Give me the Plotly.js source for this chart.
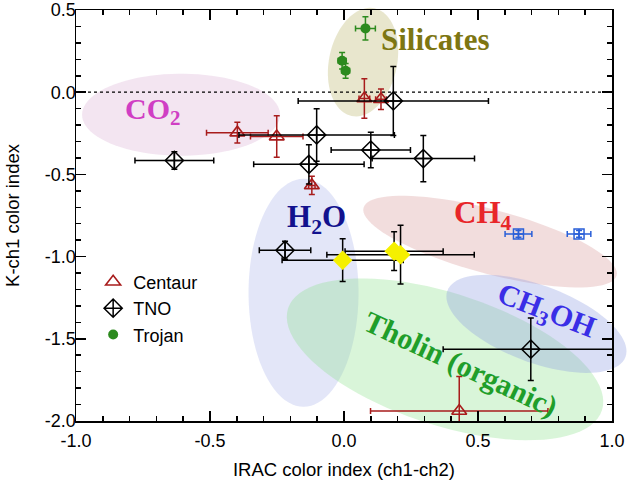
<!DOCTYPE html>
<html>
<head>
<meta charset="utf-8">
<script src="https://cdn.plot.ly/plotly-3.0.1.min.js"></script>
<style>html,body{margin:0;padding:0;background:#fff;}#chart{width:627px;height:480px;}</style>
</head>
<body>
<div id="chart"></div>
<script>
// ---------------- data ----------------
const centaurX    = [-0.398, -0.251, -0.120, 0.076, 0.138, 0.430];
const centaurY    = [-0.246, -0.270, -0.567, -0.038, -0.043, -1.939];
const centaurXErr = [0.115, 0.098, 0.012, 0.020, 0.020, 0.331];
const centaurYErr = [0.063, 0.126, 0.056, 0.120, 0.062, 0.210];

const tnoX    = [-0.633, -0.102, -0.131, 0.184, 0.100, 0.296, -0.220, 0.697];
const tnoY    = [-0.415, -0.260, -0.439, -0.053, -0.352, -0.404, -0.961, -1.563];
const tnoXErr = [0.147, 0.290, 0.206, 0.355, 0.148, 0.191, 0.096, 0.327];
const tnoYErr = [0.053, 0.160, 0.120, 0.210, 0.108, 0.140, 0.055, 0.190];

const trojanX    = [0.080, -0.007, 0.006];
const trojanY    = [0.388, 0.191, 0.130];
const trojanXErr = [0.037, 0.015, 0.015];
const trojanYErr = [0.071, 0.050, 0.045];

const ch4X    = [0.651, 0.877];
const ch4Y    = [-0.862, -0.862];
const ch4XErr = [0.050, 0.044];
const ch4YErr = [0.020, 0.020];

const yellowX    = [-0.005, 0.187, 0.211];
const yellowY    = [-1.022, -0.967, -0.988];
const yellowXErr = [0.226, 0.183, 0.275];
const yellowYErr = [0.130, 0.118, 0.178];

const xTickVals = [-1, -0.5, 0, 0.5, 1];
const xTickText = ['-1.0', '-0.5', '0.0', '0.5', '1.0'];
const yTickVals = [-2, -1.5, -1, -0.5, 0, 0.5];
const yTickText = ['-2.0', '-1.5', '-1.0', '-0.5', '0.0', '0.5'];

// composition regions (centre in data units)
const regionNames = ['CO2', 'Silicates', 'H2O', 'Tholin', 'CH4', 'CH3OH'];
const regionCX    = [-0.608, 0.071, -0.151, 0.377, 0.545, 0.718];
const regionCY    = [-0.137, 0.183, -1.220, -1.625, -0.909, -1.409];

// region labels
const labelText = ['CO<sub>2</sub>', 'Silicates', 'H<sub>2</sub>O', 'CH<sub>4</sub>', 'CH<sub>3</sub>OH', 'Tholin (organic)'];
const labelX    = [-0.713, 0.343, -0.104, 0.519, 0.754, 0.433];
const labelY    = [-0.116, 0.323, -0.770, -0.744, -1.335, -1.655];

// ---------------- geometry / style ----------------
const xRange = [-1, 1], yRange = [-2, 0.5];
const M = {l: 76, r: 15, t: 10, b: 59};
const W = 627, H = 480;
const PW = W - M.l - M.r, PH = H - M.t - M.b;

const regionStyle = {
  CO2:       {a: 99,  b: 41,  ang: 0,    fill: 'rgba(212,161,206,0.28)'},
  Silicates: {a: 55,  b: 34,  ang: -78,  fill: 'rgba(184,178,98,0.32)'},
  H2O:       {a: 114, b: 55,  ang: 90,   fill: 'rgba(169,178,235,0.33)'},
  Tholin:    {a: 165, b: 66,  ang: 18,   fill: 'rgba(141,226,141,0.33)'},
  CH4:       {a: 131, b: 32,  ang: 15,   fill: 'rgba(212,141,141,0.3)'},
  CH3OH:     {a: 95,  b: 38.6,ang: 20.4, fill: 'rgba(141,155,226,0.33)'}
};
const labelStyle = [
  {color: '#d03ec4', size: 30, angle: 0},
  {color: '#7d7612', size: 31, angle: 0},
  {color: '#12128e', size: 31, angle: 0},
  {color: '#e8262a', size: 31, angle: 0},
  {color: '#3a2ee6', size: 30, angle: 21},
  {color: '#1f9e2a', size: 30, angle: 25}
];

function dataToPx(x, y) {
  return [M.l + (x - xRange[0]) / (xRange[1] - xRange[0]) * PW,
          M.t + (yRange[1] - y) / (yRange[1] - yRange[0]) * PH];
}
function pxToPaper(px, py) {
  return [(px - M.l) / PW, 1 - (py - M.t) / PH];
}
function ellipsePath(cx, cy, a, b, angDeg) {
  const c = dataToPx(cx, cy);
  const th = angDeg * Math.PI / 180;
  const n = 90;
  let d = '';
  for (let i = 0; i <= n; i++) {
    const t = 2 * Math.PI * i / n;
    const px = c[0] + a * Math.cos(t) * Math.cos(th) - b * Math.sin(t) * Math.sin(th);
    const py = c[1] + a * Math.cos(t) * Math.sin(th) + b * Math.sin(t) * Math.cos(th);
    const p = pxToPaper(px, py);
    d += (i === 0 ? 'M' : 'L') + p[0].toFixed(5) + ',' + p[1].toFixed(5);
  }
  return d + 'Z';
}

const shapes = regionNames.map((nm, i) => {
  const s = regionStyle[nm];
  return {type: 'path', xref: 'paper', yref: 'paper', layer: 'below',
          path: ellipsePath(regionCX[i], regionCY[i], s.a, s.b, s.ang),
          fillcolor: s.fill, line: {width: 0}};
});
shapes.push({type: 'line', xref: 'x', yref: 'y', x0: xRange[0], x1: xRange[1], y0: 0, y1: 0,
             layer: 'below', line: {color: '#000', width: 1.2, dash: 'dot'}});

const annotations = labelText.map((t, i) => ({
  x: labelX[i], y: labelY[i], xref: 'x', yref: 'y', text: t, showarrow: false,
  textangle: labelStyle[i].angle,
  font: {family: '"Liberation Serif", "Times New Roman", serif', size: labelStyle[i].size,
         color: labelStyle[i].color, weight: 'bold'}
}));

function errs(arr, color, w) {
  return {type: 'data', array: arr, visible: true, color: color, thickness: 1.5, width: w};
}

const red = '#a81c1c', blue = '#2a5fd8', green = '#2c8a1e';
const traces = [
  {x: centaurX, y: centaurY, name: 'Centaur', type: 'scatter', mode: 'markers',
   error_x: errs(centaurXErr, red, 3), error_y: errs(centaurYErr, red, 3),
   marker: {symbol: 'triangle-up-open', size: 13, color: red, line: {width: 1.6, color: red}}},
  {x: tnoX, y: tnoY, name: 'TNO', type: 'scatter', mode: 'markers',
   error_x: errs(tnoXErr, '#000', 3), error_y: errs(tnoYErr, '#000', 3),
   marker: {symbol: 'diamond-cross-open', size: 14, color: '#000', line: {width: 1.5, color: '#000'}}},
  {x: trojanX, y: trojanY, name: 'Trojan', type: 'scatter', mode: 'markers',
   error_x: errs(trojanXErr, green, 3), error_y: errs(trojanYErr, green, 3),
   marker: {symbol: 'circle', size: 10, color: green}},
  {x: ch4X, y: ch4Y, name: 'CH4 objects', type: 'scatter', mode: 'markers', showlegend: false,
   error_x: errs(ch4XErr, blue, 3), error_y: errs(ch4YErr, blue, 3),
   marker: {symbol: 'square-cross-open', size: 10, color: blue, line: {width: 1.5, color: blue}}},
  {x: yellowX, y: yellowY, name: 'other', type: 'scatter', mode: 'markers', showlegend: false,
   error_x: errs(yellowXErr, '#000', 3), error_y: errs(yellowYErr, '#000', 3),
   marker: {symbol: 'diamond', size: 15, color: '#f5f000'}}
];

const axisFont = {family: '"Liberation Sans", Arial, Helvetica, sans-serif', size: 18, color: '#000'};
const commonAxis = {
  showgrid: false, zeroline: false, showline: true, linewidth: 1.5, linecolor: '#000',
  mirror: 'ticks', ticks: 'inside', ticklen: 10, tickwidth: 1.5, tickcolor: '#000',
  tickmode: 'array', tickfont: axisFont,
  minor: {tickmode: 'linear', tick0: 0, dtick: 0.1, ticks: 'inside', ticklen: 5, tickwidth: 1.5, tickcolor: '#000'}
};

const layout = {
  width: W, height: H, margin: M,
  paper_bgcolor: '#fff', plot_bgcolor: '#fff',
  font: axisFont,
  xaxis: Object.assign({}, commonAxis, {range: xRange, tickvals: xTickVals, ticktext: xTickText,
    ticklabelstandoff: 3,
    title: {text: 'IRAC color index (ch1-ch2)', font: {size: 18.5, family: axisFont.family}}}),
  yaxis: Object.assign({}, commonAxis, {range: yRange, tickvals: yTickVals, ticktext: yTickText,
    ticklabelstandoff: -5,
    title: {text: 'K-ch1 color index', standoff: 20, font: {size: 18.5, family: axisFont.family}}}),
  showlegend: true,
  legend: {x: 0.032, y: 0.383, xanchor: 'left', yanchor: 'top', bgcolor: 'rgba(0,0,0,0)',
           borderwidth: 0, font: {family: axisFont.family, size: 18, color: '#000'}},
  shapes: shapes,
  annotations: annotations
};

Plotly.newPlot('chart', traces, layout, {displayModeBar: false, staticPlot: true});
</script>
</body>
</html>
